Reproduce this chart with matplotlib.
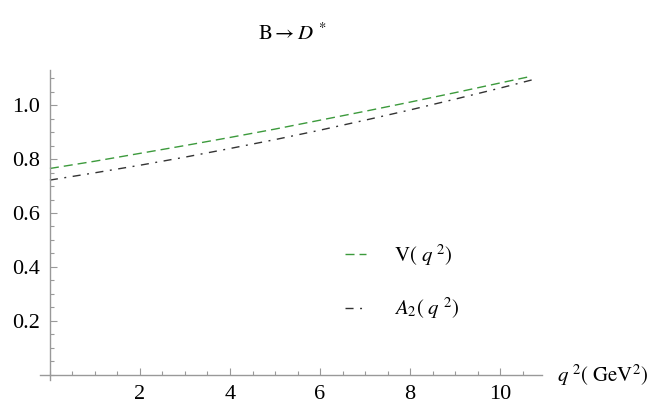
import numpy as np
import matplotlib as mpl
mpl.use('agg')
import matplotlib.pyplot as plt
from matplotlib.ticker import MultipleLocator, FixedLocator

plt.rcParams['font.family'] = ['Liberation Serif', 'DejaVu Serif']
plt.rcParams['mathtext.fontset'] = 'stix'

# values
q2 = [0, 1, 2, 3, 4, 5, 6, 7, 8, 9, 10, 10.7]
V = [0.765, 0.792, 0.821, 0.850, 0.880, 0.911, 0.944, 0.977, 1.011, 1.046, 1.082, 1.107]
A2 = [0.722, 0.749, 0.777, 0.807, 0.839, 0.872, 0.907, 0.944, 0.982, 1.022, 1.063, 1.093]

x_ticks = [2, 4, 6, 8, 10]
y_ticks = [0.2, 0.4, 0.6, 0.8, 1.0]

fig = plt.figure(figsize=(6.64, 4.17), dpi=100)
ax = fig.add_axes([40 / 664, 1 - 380 / 417, (542 - 40) / 664, (380 - 70) / 417])

ax.plot(q2, V, color='#3c9a3c', lw=1.0, dashes=(6.5, 3.6), label=r'$\mathrm{V}(\ q^{\ 2})$')
ax.plot(q2, A2, color='#333333', lw=1.0, dashes=(5.8, 4.7, 1.4, 4.7), label=r'$A_2(\ q^{\ 2})$')

ax.set_xlim(-0.22, 10.93)
ax.set_ylim(-0.019, 1.13)

ax.spines['left'].set_position(('data', 0))
ax.spines['bottom'].set_position(('data', 0))
ax.spines['right'].set_visible(False)
ax.spines['top'].set_visible(False)
for s in ['left', 'bottom']:
    ax.spines[s].set_color('#999999')
    ax.spines[s].set_linewidth(1.0)

ax.xaxis.set_major_locator(FixedLocator(x_ticks))
ax.xaxis.set_minor_locator(MultipleLocator(0.5))
ax.yaxis.set_major_locator(FixedLocator(y_ticks))
ax.yaxis.set_minor_locator(MultipleLocator(0.05))
ax.set_xticklabels([str(t) for t in x_ticks])
ax.set_yticklabels(['%.1f' % t for t in y_ticks])
ax.tick_params(which='both', direction='in', color='#999999', labelsize=16, width=0.8)
ax.tick_params(which='major', length=5, pad=7)
ax.tick_params(which='minor', length=3)

ax.annotate(r'$q^{\ 2}(\ \mathrm{GeV}^2)$', xy=(1.0, 0), xycoords=('axes fraction', 'data'),
            xytext=(11, 0), textcoords='offset points', ha='left', va='center', fontsize=15)

fig.text(292 / 664, 1 - 34 / 417, r'$\mathrm{B}\rightarrow D^{\,*}$', ha='center', va='center', fontsize=15)

ax.legend(loc='center left', bbox_to_anchor=(326 / 664, 1 - 282 / 417), bbox_transform=fig.transFigure,
          frameon=False, fontsize=15, handlelength=1.0, handletextpad=1.35, labelspacing=1.35)

plt.savefig('out.png', dpi=100)
